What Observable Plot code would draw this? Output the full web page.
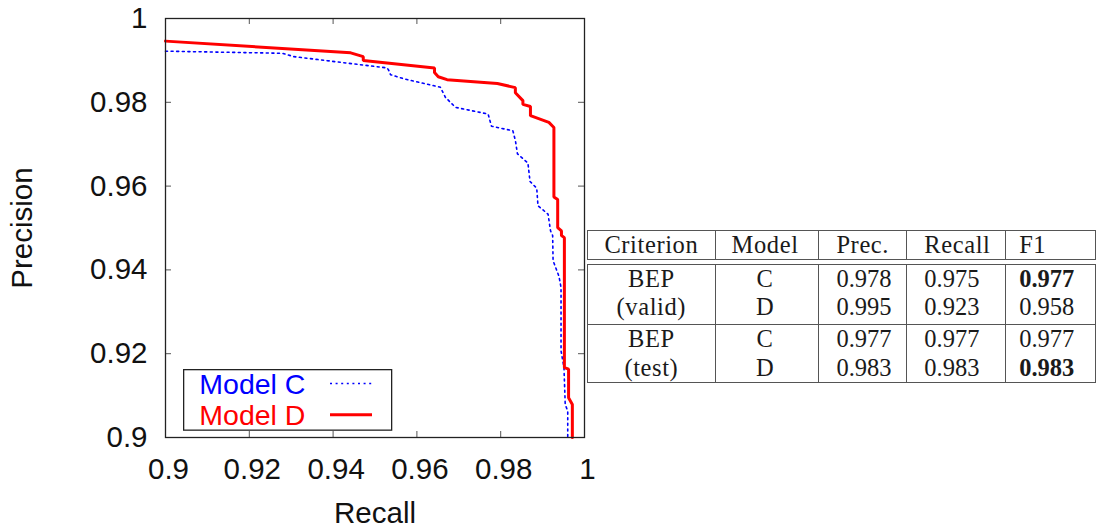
<!DOCTYPE html>
<html><head><meta charset="utf-8">
<script src="https://cdn.jsdelivr.net/npm/d3@7"></script>
<script src="https://cdn.jsdelivr.net/npm/@observablehq/plot@0.6"></script>
<style>
html,body{margin:0;padding:0;background:#fff;overflow:hidden;}
#wrap{position:relative;width:1096px;height:529px;}
#chart{position:absolute;left:0;top:0;}
#legend{position:absolute;left:183px;top:369px;overflow:visible;}
#tbl{position:absolute;left:587px;top:230px;border-collapse:separate;border-spacing:0;table-layout:fixed;
  font-family:"Liberation Serif","Times New Roman",serif;font-size:24.5px;color:#1a1a1a;}
#tbl td{padding:0;vertical-align:top;line-height:28.3px;white-space:nowrap;overflow:visible;}
#tbl .c{text-align:center;}
#tbl .l3{text-align:left;padding-left:17px;}
#tbl .l5{text-align:left;padding-left:13px;}
#tbl tr.hdr td{border-top:1.3px solid #555;border-bottom:1.3px solid #555;height:28.3px;}
#tbl tr.sp td{height:3.5px;line-height:3.5px;font-size:1px;}
#tbl tr.b1 td{border-top:1.3px solid #555;height:59.7px;}
#tbl tr.b2 td{border-top:1.3px solid #555;border-bottom:1.3px solid #555;height:57px;}
#tbl td.first{border-left:1.3px solid #555;}
#tbl td.rb{border-right:1.3px solid #555;}
#tbl td.gap{border-right:1.3px solid #555;}
#tbl tr.sp td{border:none;}
#tbl .cc{letter-spacing:0.6px;}
#tbl b{font-weight:bold;}
</style>
</head><body>
<div id="wrap">
  <div id="chart"></div>
  <svg id="legend" width="212" height="66"></svg>
  <table id="tbl"></table>
</div>
<script>
// ---- data ----
const xTicks = [0.9, 0.92, 0.94, 0.96, 0.98, 1];
const yTicks = [0.9, 0.92, 0.94, 0.96, 0.98, 1];

const seriesNames = ["Model C", "Model D"];

const recallC = [0.9, 0.9279, 0.9306, 0.9529, 0.9533, 0.9537, 0.9569, 0.9656, 0.9668, 0.9692, 0.9770, 0.9778, 0.9792, 0.9829, 0.9835, 0.9840, 0.9865, 0.9870, 0.9886, 0.9889, 0.9913, 0.9919, 0.9924, 0.9925, 0.9939, 0.9944, 0.9944, 0.9951, 0.9954, 0.9960, 0.9960];
const precisionC = [0.9922, 0.9917, 0.9909, 0.9882, 0.9876, 0.9866, 0.9856, 0.9836, 0.9812, 0.9788, 0.9772, 0.9743, 0.9740, 0.9732, 0.9709, 0.9677, 0.9655, 0.9611, 0.9595, 0.9553, 0.9533, 0.9493, 0.9482, 0.9422, 0.9385, 0.9358, 0.9207, 0.9167, 0.9079, 0.9063, 0.9];

const recallD = [0.9, 0.9442, 0.9472, 0.9472, 0.9642, 0.9642, 0.9651, 0.9672, 0.9792, 0.9835, 0.9835, 0.9853, 0.9853, 0.9871, 0.9871, 0.9915, 0.9927, 0.9927, 0.9936, 0.9936, 0.9945, 0.9945, 0.9952, 0.9952, 0.9962, 0.9962, 0.9971, 0.9971];
const precisionD = [0.9946, 0.9918, 0.9909, 0.9900, 0.9882, 0.9871, 0.9861, 0.9854, 0.9845, 0.9835, 0.9823, 0.9804, 0.9795, 0.9790, 0.9768, 0.9752, 0.9740, 0.9574, 0.9568, 0.9501, 0.9493, 0.9482, 0.9477, 0.9167, 0.9163, 0.9095, 0.9079, 0.9];

const tableHeader = ["Criterion", "Model", "Prec.", "Recall", "F1"];
const criteria = [["BEP", "(valid)"], ["BEP", "(test)"]];
const models = [["C", "D"], ["C", "D"]];
const precVals = [["0.978", "0.995"], ["0.977", "0.983"]];
const recallVals = [["0.975", "0.923"], ["0.977", "0.983"]];
const f1Vals = [["0.977", "0.958"], ["0.977", "0.983"]];
const f1Bold = [[true, false], [false, true]];

const colorC = "#0000ff", colorD = "#ff0000";

// ---- chart ----
const seriesC = recallC.map((r, i) => ({recall: r, precision: precisionC[i]}));
const seriesD = recallD.map((r, i) => ({recall: r, precision: precisionD[i]}));
const fmt = d => String(+(+d).toFixed(2));
const FS = 29.5;

const plot = Plot.plot({
  width: 600, height: 529,
  marginLeft: 165, marginRight: 16, marginTop: 18, marginBottom: 92,
  style: {fontFamily: "'Liberation Sans', Arial, sans-serif", fontSize: FS + "px", color: "#111", background: "transparent", overflow: "visible"},
  x: {domain: [0.9, 1]},
  y: {domain: [0.9, 1]},
  marks: [
    Plot.axisX(xTicks, {tickSize: 0, tickPadding: 21, dx: 3, label: null, tickFormat: fmt, fontSize: FS}),
    Plot.axisY(yTicks, {tickSize: 0, tickPadding: 18, label: null, tickFormat: fmt, fontSize: FS}),
    Plot.tickX(xTicks, {x: d => d, insetTop: 413, stroke: "#555", strokeWidth: 1}),
    Plot.tickX(xTicks, {x: d => d, insetBottom: 413, stroke: "#555", strokeWidth: 1}),
    Plot.tickY(yTicks, {y: d => d, insetRight: 413, stroke: "#555", strokeWidth: 1}),
    Plot.tickY(yTicks, {y: d => d, insetLeft: 413, stroke: "#555", strokeWidth: 1}),
    Plot.line(seriesC, {x: "recall", y: "precision", stroke: colorC, strokeWidth: 1.6, strokeDasharray: "2,3.6", strokeLinejoin: "miter"}),
    Plot.line(seriesD, {x: "recall", y: "precision", stroke: colorD, strokeWidth: 3, strokeLinejoin: "miter"}),
    Plot.frame({stroke: "#222", strokeWidth: 1.3}),
    Plot.text(["Recall"], {text: d => d, frameAnchor: "bottom", dy: 76, lineAnchor: "middle", textAnchor: "middle", fontSize: FS, fill: "#111"}),
    Plot.text(["Precision"], {text: d => d, frameAnchor: "left", dx: -142.5, rotate: -90, lineAnchor: "middle", textAnchor: "middle", fontSize: FS, fill: "#111"})
  ]
});
document.getElementById("chart").appendChild(plot);

// ---- legend ----
const lg = d3.select("#legend");
lg.append("rect").attr("x", 0.65).attr("y", 0.65).attr("width", 208).attr("height", 60.5)
  .attr("fill", "#fff").attr("stroke", "#222").attr("stroke-width", 1.3);
const lgColors = [colorC, colorD];
seriesNames.forEach((name, i) => {
  lg.append("text").attr("x", 16.3).attr("y", i === 0 ? 24.8 : 56.3).text(name)
    .attr("fill", lgColors[i]).attr("font-family", "'Liberation Sans', Arial, sans-serif").attr("font-size", 28.5);
  lg.append("line").attr("x1", 147).attr("x2", 189).attr("y1", i === 0 ? 14.5 : 45.8).attr("y2", i === 0 ? 14.5 : 45.8)
    .attr("stroke", lgColors[i]).attr("stroke-width", i === 0 ? 1.6 : 3)
    .attr("stroke-dasharray", i === 0 ? "2,3.6" : null);
});

// ---- table ----
const tbl = d3.select("#tbl");
const cg = tbl.append("colgroup");
[129, 99, 5, 88, 99, 90].forEach(w => cg.append("col").style("width", w + "px"));
const colClass = ["c first rb", "c", "gap", "l3 rb", "l3 rb", "l5 rb"];
const hdr = tbl.append("tr").attr("class", "hdr");
const hdrCells = [tableHeader[0], tableHeader[1], "", tableHeader[2], tableHeader[3], tableHeader[4]];
hdrCells.forEach((t, j) => hdr.append("td").attr("class", colClass[j]).append("span").attr("class", "cc").text(t));
const sp = tbl.append("tr").attr("class", "sp");
sp.append("td").attr("colspan", 6);
criteria.forEach((crit, i) => {
  const tr = tbl.append("tr").attr("class", i === 0 ? "b1" : "b2");
  const cells = [crit, models[i], null, precVals[i], recallVals[i], f1Vals[i]];
  cells.forEach((lines, j) => {
    const td = tr.append("td").attr("class", colClass[j]);
    if (!lines) return;
    lines.forEach((t, k) => {
      if (k > 0) td.append("br");
      if (j === 5 && f1Bold[i][k]) td.append("b").text(t);
      else td.append("span").attr("class", j < 2 ? "cc" : null).text(t);
    });
  });
});
</script>
</body></html>
